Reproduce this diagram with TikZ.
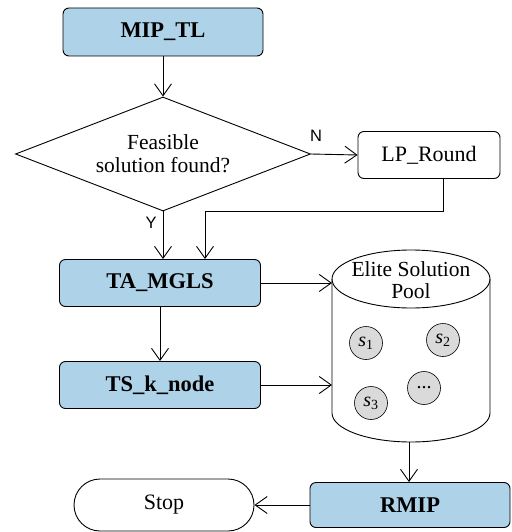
\documentclass[tikz,border=0pt]{standalone}
\usepackage{fontspec}
\setmainfont{Liberation Serif}
\newfontfamily\labelfont{Liberation Sans}
\usetikzlibrary{shapes.geometric,arrows.meta}

\definecolor{boxblue}{RGB}{174,211,233}
\definecolor{dotgray}{RGB}{218,218,218}

\tikzset{
  arr/.style={-{Straight Barb[length=12pt,width=17pt]},line width=0.9pt},
  bluebox/.style={draw,line width=0.9pt,rounded corners=6pt,fill=boxblue,
    font=\bfseries\fontsize{22.5}{24}\selectfont,inner sep=0pt},
  plainbox/.style={draw,line width=0.9pt,rounded corners=6pt,fill=white,
    font=\fontsize{22}{24}\selectfont,inner sep=0pt},
  decision/.style={draw,diamond,aspect=2.59,line width=0.9pt,inner sep=0pt,align=center,
    font=\fontsize{21.5}{23}\selectfont},
  sol/.style={draw,circle,fill=dotgray,line width=0.6pt,minimum size=33pt,
    inner sep=0pt,font=\fontsize{20}{20}\selectfont},
  yn/.style={font=\labelfont\fontsize{16.5}{17}\selectfont}
}

\begin{document}
\begin{tikzpicture}[x=1pt,y=1pt]
  \useasboundingbox (0,0) rectangle (511,-532);

  % main column
  \node[bluebox,minimum width=200pt,minimum height=48pt] (mip) at (163,-32) {MIP\_TL};
  \node[decision,minimum width=295pt,minimum height=114pt] (dec) at (163,-154) {Feasible\\solution found?};
  \node[plainbox,minimum width=142pt,minimum height=47pt] (lp) at (429,-155) {LP\_Round};
  \node[bluebox,minimum width=201pt,minimum height=47pt] (ta) at (160,-283) {TA\_MGLS};
  \node[bluebox,minimum width=201pt,minimum height=47pt] (ts) at (160,-385) {TS\_k\_node};

  % elite pool
  \draw[line width=0.9pt,fill=white] (332,-279) -- (332,-413)
    arc[start angle=180,end angle=360,x radius=79,y radius=29] -- (490,-279);
  \draw[line width=0.9pt] (411,-279) ellipse[x radius=79,y radius=29];
  \node[align=center,font=\fontsize{21.5}{22}\selectfont] (pooltxt) at (411,-280) {Elite Solution\\Pool};
  \coordinate (poolL) at (332,-279);
  \coordinate (poolB) at (409,-442);

  \node[sol] (s1) at (366,-343) {\textit{s}\textsubscript{1}};
  \node[sol] (s2) at (443,-340) {\textit{s}\textsubscript{2}};
  \node[sol] (s3) at (371,-403) {\textit{s}\textsubscript{3}};
  \node[sol] (sd) at (424,-388) {...};

  % bottom row
  \node[bluebox,minimum width=200pt,minimum height=45pt] (rmip) at (410,-505) {RMIP};
  \node[plainbox,rounded corners=26pt,minimum width=180pt,minimum height=52pt] (stop) at (164,-505) {Stop};

  % connectors
  \coordinate (bend) at (205,-211);
  \draw[arr] (mip) -- (dec);
  \draw[arr] (dec.east) -- (lp.west);
  \draw[arr] (dec.south) -- (dec.south |- ta.north);
  \draw[arr] ([xshift=14pt]lp.south) |- (bend) -- (bend |- ta.north);
  \draw[arr] (ta) -- (ts);
  \draw[arr] (ta.east) -- (ta.east -| poolL);
  \draw[arr] (ts.east) -- (ts.east -| poolL);
  \draw[arr] (poolB) -- (poolB |- rmip.north);
  \draw[arr] (rmip.west) -- (stop.east);

  \node[yn] (nlab) at (316,-136) {N};
  \node[yn] (ylab) at (151,-223) {Y};
\end{tikzpicture}
\end{document}
